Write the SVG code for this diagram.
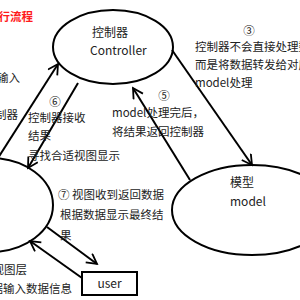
<svg xmlns="http://www.w3.org/2000/svg" width="300" height="300" viewBox="0 0 300 300">
<style>
.node{fill:#fff;stroke:#000;stroke-width:2}
.lbl{font-family:"Noto Sans CJK SC","Noto Sans",sans-serif;font-size:12px;fill:#222}
.ann{font-family:"Noto Sans CJK SC","Noto Sans",sans-serif;font-size:11.5px;fill:#222}
.title{font-family:"Noto Sans CJK SC",sans-serif;font-size:11.5px;font-weight:bold;fill:#ff1a1a}
.conn line{stroke:#000;stroke-width:2;marker-end:url(#arr)}
</style>
<defs>
<marker id="arr" markerUnits="userSpaceOnUse" markerWidth="14" markerHeight="14" refX="11" refY="6" orient="auto">
<path d="M1,0.5 L11,6 L1,11.5" fill="none" stroke="#000" stroke-width="1.8"/>
</marker>
</defs>
<rect width="300" height="300" fill="#fff"/>
<text class="title" x="33" y="21" text-anchor="end">行流程</text>

<g id="view">
<ellipse class="node" cx="-10" cy="205" rx="63" ry="47"/>
</g>
<g id="controller">
<ellipse class="node" cx="113" cy="47" rx="60" ry="37"/>
<text class="lbl" x="92" y="37">控制器</text>
<text class="lbl" x="90" y="55">Controller</text>
</g>
<g id="model">
<ellipse class="node" cx="252" cy="210" rx="80" ry="45"/>
<text class="lbl" x="230" y="187">模型</text>
<text class="lbl" x="230" y="206">model</text>
</g>
<g id="user">
<rect class="node" x="82" y="272" width="55" height="23"/>
<text class="lbl" x="109.5" y="288" text-anchor="middle">user</text>
</g>

<g class="conn">
<line x1="-2" y1="158" x2="58" y2="64"/>
<line x1="78" y1="83" x2="28" y2="168"/>
<line x1="172" y1="50" x2="252" y2="165"/>
<line x1="190" y1="180" x2="133" y2="88"/>
<line x1="47" y1="227" x2="97" y2="264"/>
<line x1="82" y1="278" x2="30" y2="241"/>
</g>

<g id="labels">
<text class="ann" x="20" y="82" text-anchor="end">输入</text>
<text class="ann" x="18" y="119" text-anchor="end">制器</text>
<text class="ann" x="249" y="35" text-anchor="middle">③</text>
<text class="ann" x="195" y="51">控制器不会直接处理数</text>
<text class="ann" x="195" y="69">而是将数据转发给对应</text>
<text class="ann" x="195" y="87">model处理</text>
<text class="ann" x="164" y="100" text-anchor="middle">⑤</text>
<text class="ann" x="112" y="117">model处理完后，</text>
<text class="ann" x="112" y="136">将结果返回控制器</text>
<text class="ann" x="55" y="106" text-anchor="middle">⑥</text>
<text class="ann" x="28" y="122">控制器接收</text>
<text class="ann" x="28" y="140">结果</text>
<text class="ann" x="28" y="160">寻找合适视图显示</text>
<text class="ann" x="58" y="199">⑦ 视图收到返回数据</text>
<text class="ann" x="60" y="219">根据数据显示最终结</text>
<text class="ann" x="60" y="240">果</text>
<text class="ann" x="27" y="274" text-anchor="end">视图层</text>
<text class="ann" x="72" y="293" text-anchor="end">据输入数据信息</text>
</g>
</svg>
